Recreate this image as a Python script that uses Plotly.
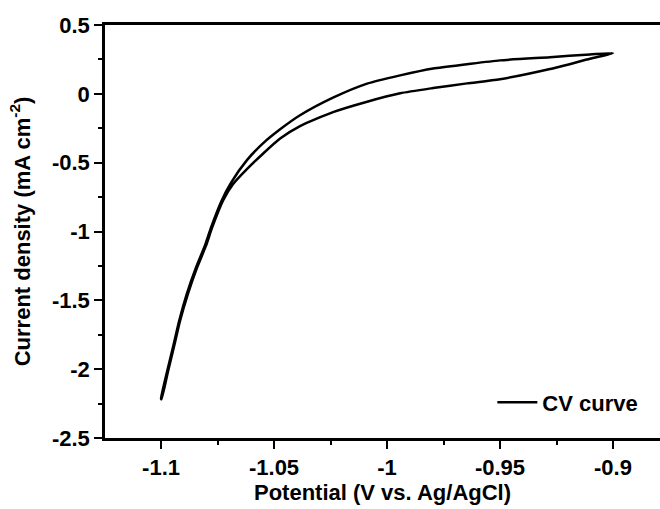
import plotly.graph_objects as go

# Cathodic scan (from -0.9 V down to -1.1 V)
scan_down_potential = [-0.9000, -0.9102, -0.9279, -0.9500, -0.9646, -0.9796, -0.9942, -1.0088,
                       -1.0239, -1.0385, -1.0473, -1.0549, -1.0619, -1.0681, -1.0726, -1.0774,
                       -1.0801, -1.0841, -1.0881, -1.0916, -1.0942, -1.0969, -1.0998]
scan_down_current = [0.296, 0.255, 0.180, 0.106, 0.076, 0.042, 0.004, -0.057,
                     -0.133, -0.235, -0.325, -0.435, -0.545, -0.655, -0.776, -0.972,
                     -1.103, -1.264, -1.453, -1.650, -1.832, -2.015, -2.219]
# Anodic scan (from -1.1 V back to -0.9 V)
scan_up_potential = [-1.1000, -1.0973, -1.0946, -1.0920, -1.0886, -1.0846, -1.0806, -1.0779,
                     -1.0732, -1.0690, -1.0619, -1.0549, -1.0473, -1.0385, -1.0239, -1.0088,
                     -0.9942, -0.9796, -0.9646, -0.9500, -0.9279, -0.9102, -0.9000]
scan_up_current = [-2.215, -2.015, -1.832, -1.650, -1.453, -1.264, -1.103, -0.972,
                   -0.776, -0.645, -0.480, -0.360, -0.258, -0.156, -0.028, 0.074,
                   0.134, 0.184, 0.215, 0.243, 0.266, 0.286, 0.296]

x_tickvals = [-1.1, -1.05, -1.0, -0.95, -0.9]
x_ticktext = ["-1.1", "-1.05", "-1", "-0.95", "-0.9"]
y_tickvals = [0.5, 0, -0.5, -1, -1.5, -2, -2.5]
y_ticktext = ["0.5", "0", "-0.5", "-1", "-1.5", "-2", "-2.5"]

potential = scan_down_potential + scan_up_potential
current = scan_down_current + scan_up_current

font_family = "Liberation Sans, Arial, sans-serif"
fs = 22

fig = go.Figure()
fig.add_trace(go.Scatter(
    x=potential, y=current, mode="lines", name="<b>CV curve</b>",
    line=dict(color="black", width=2.5, shape="spline", smoothing=0.6),
))

fig.update_layout(
    width=660, height=509,
    margin=dict(l=105, r=0, t=25, b=71),
    paper_bgcolor="white", plot_bgcolor="white",
    font=dict(family=font_family, size=fs, color="black"),
    showlegend=True,
    legend=dict(x=0.97, y=0.035, xanchor="right", yanchor="bottom",
                bgcolor="rgba(0,0,0,0)", font=dict(size=fs, family=font_family),
                itemwidth=40),
    xaxis=dict(
        range=[-1.1248, -0.8792],
        tickmode="array", tickvals=x_tickvals, ticktext=[f"<b>{t}</b>" for t in x_ticktext],
        ticks="outside", ticklen=8, tickwidth=2, tickcolor="black",
        showline=True, linewidth=2.5, linecolor="black", mirror=True,
        showgrid=False, zeroline=False,
        minor=dict(tickmode="linear", tick0=-1.1, dtick=0.025, ticks="outside",
                   ticklen=4, tickwidth=2, tickcolor="black", showgrid=False),
        title=dict(text="<b>Potential (V vs. Ag/AgCl)</b>", standoff=4,
                   font=dict(size=fs, family=font_family)),
        tickfont=dict(size=fs, family=font_family),
    ),
    yaxis=dict(
        range=[-2.5, 0.5],
        tickmode="array", tickvals=y_tickvals, ticktext=[f"<b>{t}</b>" for t in y_ticktext],
        ticks="outside", ticklen=8, tickwidth=2, tickcolor="black",
        showline=True, linewidth=2.5, linecolor="black", mirror=False,
        showgrid=False, zeroline=False,
        minor=dict(tickmode="linear", tick0=0.5, dtick=0.25, ticks="outside",
                   ticklen=4, tickwidth=2, tickcolor="black", showgrid=False),
        title=dict(text="<b>Current density (mA cm<sup>-2</sup>)</b>", standoff=16,
                   font=dict(size=fs, family=font_family)),
        tickfont=dict(size=fs, family=font_family),
    ),
)

fig.write_html("out.html")
